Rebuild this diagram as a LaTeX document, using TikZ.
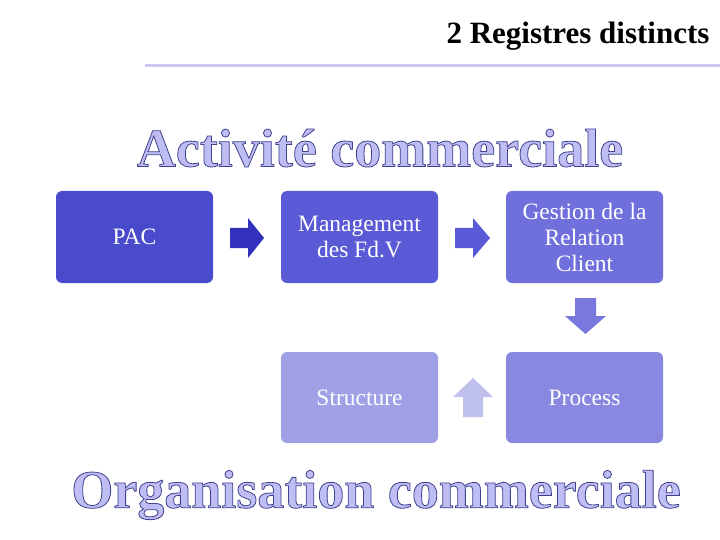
\documentclass[tikz,border=0pt]{standalone}
\usepackage{fontspec}
\setmainfont{Liberation Serif}
\begin{document}
\newcommand{\outl}[1]{\special{pdf:literal direct q 2 Tr 0.8 w 0.25 0.25 0.55 RG}#1\special{pdf:literal direct Q}}
\begin{tikzpicture}[x=1pt,y=-1pt,
  lbl/.style={text=white,align=center,font=\fontsize{23.5}{26}\selectfont},
  big/.style={font=\bfseries\fontsize{54}{58}\selectfont,text={rgb,255:red,190;green,190;blue,245}}]
\useasboundingbox (0,0) rectangle (720,540);
\fill[white] (0,0) rectangle (720,540);
\node[anchor=east,font=\bfseries\fontsize{31}{34}\selectfont] (title) at (713,36) {2 Registres distincts};
\draw[line width=3pt,color={rgb,255:red,200;green,200;blue,240}] (145,66) -- (720,66);
\node[big] (act) at (380,148) {\outl{Activité commerciale}};
\node[big] (org) at (376,495) {\outl{Organisation commerciale}};
\fill[rounded corners=6pt,color={rgb,255:red,74;green,74;blue,205}] (56,191) rectangle node[lbl] (pac) {PAC} (213,283);
\fill[rounded corners=6pt,color={rgb,255:red,90;green,90;blue,214}] (281,191) rectangle node[lbl] (mgt) {Management\\des Fd.V} (438,283);
\fill[rounded corners=6pt,color={rgb,255:red,112;green,112;blue,221}] (506,191) rectangle node[lbl] (grc) {Gestion de la\\Relation\\Client} (663,283);
\fill[rounded corners=6pt,color={rgb,255:red,160;green,160;blue,230}] (281,352) rectangle node[lbl] (str) {Structure} (438,443);
\fill[rounded corners=6pt,color={rgb,255:red,136;green,136;blue,224}] (506,352) rectangle node[lbl] (proc) {Process} (663,443);
\fill[color={rgb,255:red,50;green,50;blue,190}] (230,228)--(248,228)--(248,218)--(264,238)--(248,258)--(248,248)--(230,248)--cycle;
\fill[color={rgb,255:red,90;green,90;blue,214}] (455,228)--(473,228)--(473,218)--(490,238)--(473,258)--(473,248)--(455,248)--cycle;
\fill[color={rgb,255:red,120;green,120;blue,222}] (575,298)--(596,298)--(596,316)--(606,316)--(585.5,334)--(565,316)--(575,316)--cycle;
\fill[color={rgb,255:red,192;green,192;blue,236}] (463,417)--(483,417)--(483,397)--(493,397)--(473,378)--(453,397)--(463,397)--cycle;
\end{tikzpicture}
\end{document}
